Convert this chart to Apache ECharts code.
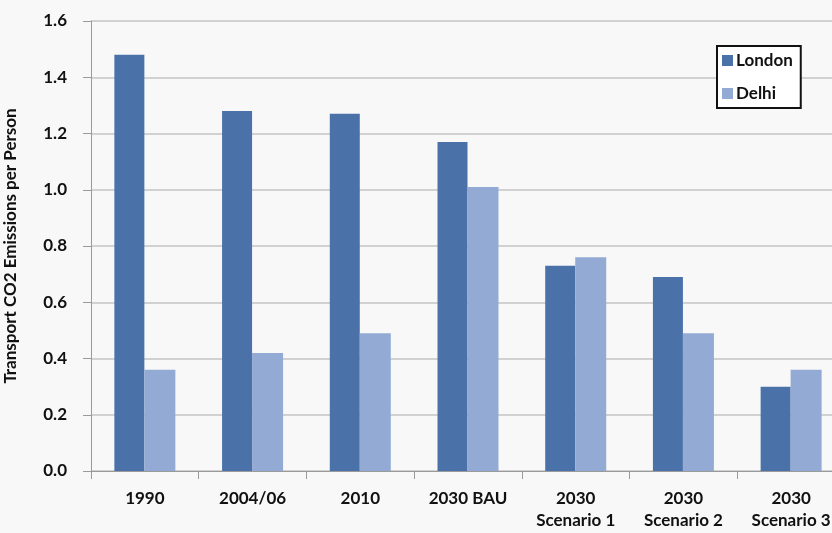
<!DOCTYPE html>
<html>
<head>
<meta charset="utf-8">
<style>
  html, body { margin: 0; padding: 0; background: #f8f8f8; }
  #chart { width: 832px; height: 533px; }
</style>
<script src="https://cdn.jsdelivr.net/npm/echarts@6/dist/echarts.min.js"></script>
</head>
<body>
<div id="chart"></div>
<script>
// Transport CO2 emissions per person, London vs Delhi
const categories = ['1990', '2004/06', '2010', '2030 BAU', '2030\nScenario 1', '2030\nScenario 2', '2030\nScenario 3'];
const london = [1.48, 1.28, 1.27, 1.17, 0.73, 0.69, 0.30];
const delhi = [0.36, 0.42, 0.49, 1.01, 0.76, 0.49, 0.36];
const yTicks = { min: 0, max: 1.6, interval: 0.2 };

const font = 'Lato, "Open Sans", sans-serif';
const chart = echarts.init(document.getElementById('chart'), null, { renderer: 'canvas' });

chart.setOption({
  backgroundColor: '#f8f8f8',
  animation: false,
  grid: { left: 91, top: 21, width: 754, bottom: 62, containLabel: false, outerBoundsMode: 'none' },
  legend: {
    orient: 'vertical',
    left: 717,
    top: 46,
    width: 89,
    padding: [6, 8, 6, 5],
    itemWidth: 11,
    itemHeight: 11,
    itemGap: 16,
    backgroundColor: '#ffffff',
    borderColor: '#111111',
    borderWidth: 2,
    icon: 'rect',
    textStyle: { fontFamily: font, fontSize: 17, fontWeight: 'bold', color: '#111', padding: [0, 0, 0, -2] },
    data: ['London', 'Delhi']
  },
  xAxis: {
    type: 'category',
    data: categories,
    axisLine: { lineStyle: { color: '#9a9a9a', width: 1 } },
    axisTick: { show: true, length: 8, lineStyle: { color: '#9a9a9a' } },
    axisLabel: {
      fontFamily: font, fontSize: 17, fontWeight: 'bold', color: '#111',
      margin: 17, lineHeight: 22, interval: 0
    }
  },
  yAxis: {
    type: 'value',
    min: yTicks.min,
    max: yTicks.max,
    interval: yTicks.interval,
    name: 'Transport CO2 Emissions per Person',
    nameLocation: 'middle',
    nameGap: 72,
    nameRotate: 90,
    nameTextStyle: { fontFamily: font, fontSize: 17, fontWeight: 'bold', color: '#111' },
    axisLine: { show: true, lineStyle: { color: '#9a9a9a' } },
    axisTick: { show: true, inside: false, length: 8, lineStyle: { color: '#9a9a9a' } },
    axisLabel: {
      fontFamily: font, fontSize: 17, fontWeight: 'bold', color: '#111', margin: 24,
      formatter: v => v.toFixed(1)
    },
    splitLine: { lineStyle: { color: '#c4c4c4', width: 1.5 } }
  },
  series: [
    {
      name: 'London', type: 'bar', data: london,
      barWidth: 30, barGap: '0%',
      itemStyle: { color: '#4a72a9' }
    },
    {
      name: 'Delhi', type: 'bar', data: delhi,
      barWidth: 31,
      itemStyle: { color: '#93aad5' }
    }
  ]
});
</script>
</body>
</html>
